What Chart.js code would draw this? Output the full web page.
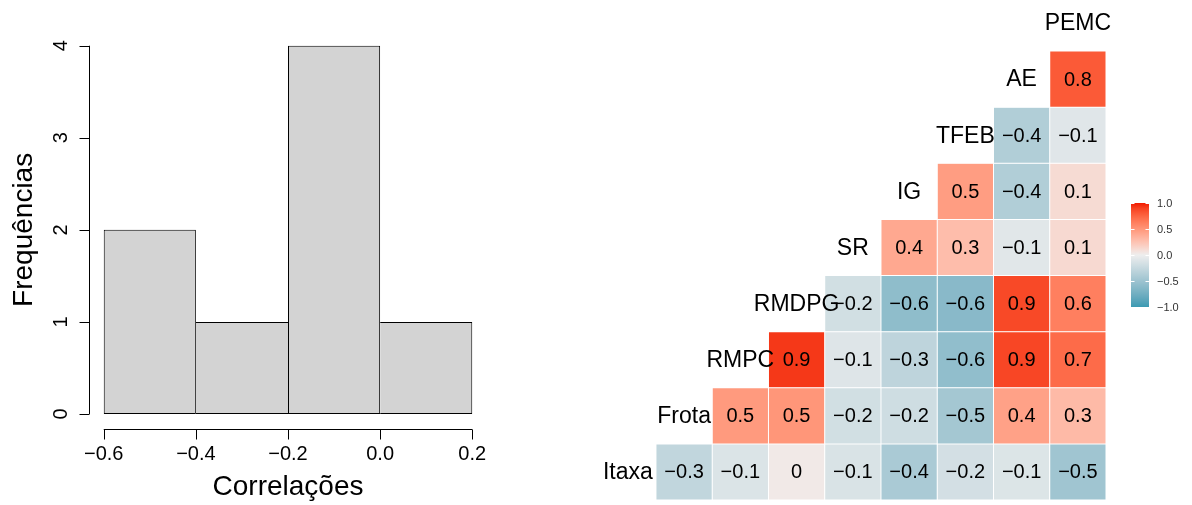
<!DOCTYPE html>
<html>
<head>
<meta charset="utf-8">
<script src="https://cdn.jsdelivr.net/npm/chart.js@4"></script>
<style>
  body { margin: 0; background: #fff; }
  #wrap { position: relative; width: 1192px; height: 505px; }
  canvas { position: absolute; top: 0; }
  #hist { left: 0; }
  #corr { left: 595px; }
</style>
</head>
<body>
<div id="wrap">
  <canvas id="hist" width="595" height="505"></canvas>
  <canvas id="corr" width="597" height="505"></canvas>
</div>
<script>
// histogram
const binEdges = [-0.6, -0.4, -0.2, 0.0, 0.2];
const binCounts = [2, 1, 4, 1];
const freqTicks = [0, 1, 2, 3, 4];

// correlation matrix (lower triangle, row r holds columns r+1..8)
const varNames = ['Itaxa', 'Frota', 'RMPC', 'RMDPG', 'SR', 'IG', 'TFEB', 'AE', 'PEMC'];
const corrItaxa = [-0.28, -0.12, 0.03, -0.13, -0.42, -0.17, -0.11, -0.48];
const corrFrota = [0.48, 0.5, -0.18, -0.2, -0.46, 0.44, 0.3];
const corrRMPC = [0.93, -0.1, -0.3, -0.57, 0.88, 0.72];
const corrRMDPG = [-0.18, -0.58, -0.62, 0.87, 0.62];
const corrSR = [0.4, 0.28, -0.08, 0.12];
const corrIG = [0.46, -0.38, 0.11];
const corrTFEB = [-0.38, -0.09];
const corrAE = [0.8];
const legendTicks = [1.0, 0.5, 0.0, -0.5, -1.0];

const FONT = "'Liberation Sans', Arial, sans-serif";
const minus = s => s.replace('-', '\u2212');

// ---- colour ramp (Lab interpolation like ggplot's gradient2)
function hexToLab(hex) {
  let c = [1, 3, 5].map(i => parseInt(hex.substr(i, 2), 16) / 255);
  c = c.map(v => v <= 0.04045 ? v / 12.92 : Math.pow((v + 0.055) / 1.055, 2.4));
  let X = (c[0] * 0.4124 + c[1] * 0.3576 + c[2] * 0.1805) / 0.95047;
  let Y = (c[0] * 0.2126 + c[1] * 0.7152 + c[2] * 0.0722);
  let Z = (c[0] * 0.0193 + c[1] * 0.1192 + c[2] * 0.9505) / 1.08883;
  const f = t => t > 0.008856 ? Math.cbrt(t) : 7.787 * t + 16 / 116;
  X = f(X); Y = f(Y); Z = f(Z);
  return [116 * Y - 16, 500 * (X - Y), 200 * (Y - Z)];
}
function labToRgb(L, a, b) {
  let Y = (L + 16) / 116, X = a / 500 + Y, Z = Y - b / 200;
  const g = t => t * t * t > 0.008856 ? t * t * t : (t - 16 / 116) / 7.787;
  X = g(X) * 0.95047; Y = g(Y); Z = g(Z) * 1.08883;
  let r = X * 3.2406 + Y * -1.5372 + Z * -0.4986;
  let gg = X * -0.9689 + Y * 1.8758 + Z * 0.0415;
  let bb = X * 0.0557 + Y * -0.2040 + Z * 1.0570;
  const s = v => {
    v = v > 0.0031308 ? 1.055 * Math.pow(v, 1 / 2.4) - 0.055 : 12.92 * v;
    return Math.round(Math.min(1, Math.max(0, v)) * 255);
  };
  return 'rgb(' + s(r) + ',' + s(gg) + ',' + s(bb) + ')';
}
const LOW = hexToLab('#3B9AB2'), MID = hexToLab('#EEEEEE'), HIGH = hexToLab('#F21A00');
function corrColor(v) {
  const end = v >= 0 ? HIGH : LOW;
  const t = Math.min(1, Math.abs(v));
  return labToRgb(MID[0] + (end[0] - MID[0]) * t, MID[1] + (end[1] - MID[1]) * t, MID[2] + (end[2] - MID[2]) * t);
}

// ---- left: histogram
const histAxes = {
  id: 'histAxes',
  afterDraw(chart) {
    const { ctx, chartArea } = chart;
    const xs = chart.scales.x, ys = chart.scales.y;
    ctx.save();
    ctx.strokeStyle = '#000';
    ctx.fillStyle = '#000';
    ctx.lineWidth = 1;
    // y axis
    const ax = Math.round(chartArea.left) + 0.5;
    ctx.beginPath();
    ctx.moveTo(ax, ys.getPixelForValue(freqTicks[0]));
    ctx.lineTo(ax, ys.getPixelForValue(freqTicks[freqTicks.length - 1]));
    freqTicks.forEach(t => {
      const y = Math.round(ys.getPixelForValue(t)) + 0.5;
      ctx.moveTo(ax, y);
      ctx.lineTo(ax - 10, y);
    });
    // x axis
    const ay = Math.round(chartArea.bottom) + 0.5;
    ctx.moveTo(xs.getPixelForValue(binEdges[0]), ay);
    ctx.lineTo(xs.getPixelForValue(binEdges[binEdges.length - 1]), ay);
    binEdges.forEach(t => {
      const x = Math.round(xs.getPixelForValue(t)) + 0.5;
      ctx.moveTo(x, ay);
      ctx.lineTo(x, ay + 10);
    });
    ctx.stroke();

    ctx.font = '20px ' + FONT;
    ctx.textAlign = 'center';
    ctx.textBaseline = 'alphabetic';
    binEdges.forEach(t => ctx.fillText(minus(t.toFixed(1)), xs.getPixelForValue(t), 460));
    freqTicks.forEach(t => {
      ctx.save();
      ctx.translate(67, ys.getPixelForValue(t));
      ctx.rotate(-Math.PI / 2);
      ctx.fillText(String(t), 0, 0);
      ctx.restore();
    });

    ctx.font = '28px ' + FONT;
    ctx.fillText('Correlações', (chartArea.left + chartArea.right) / 2, 495);
    ctx.save();
    ctx.translate(32, (chartArea.top + chartArea.bottom) / 2);
    ctx.rotate(-Math.PI / 2);
    ctx.fillText('Frequências', 0, 0);
    ctx.restore();
    ctx.restore();
  }
};

const lastBin = binCounts.length - 1;
new Chart(document.getElementById('hist'), {
  type: 'bar',
  data: {
    datasets: [{
      data: binCounts.map((c, i) => ({ x: (binEdges[i] + binEdges[i + 1]) / 2, y: c })),
      backgroundColor: '#D3D3D3',
      borderColor: '#000',
      borderSkipped: false,
      inflateAmount: 0,
      borderWidth: ctx => {
        const i = ctx.dataIndex;
        return {
          top: 1, bottom: 1,
          left: (i === 0 || binCounts[i] >= binCounts[i - 1]) ? 1 : 0,
          right: (i === lastBin || binCounts[i] > binCounts[i + 1]) ? 1 : 0
        };
      },
      barPercentage: 1,
      categoryPercentage: 1
    }]
  },
  options: {
    responsive: false,
    animation: false,
    layout: { padding: { left: 89, right: 108, top: 31, bottom: 76.3 } },
    scales: {
      x: {
        type: 'linear', display: false, offset: false, min: -0.632, max: 0.232,
        afterBuildTicks: s => { s.ticks = binEdges.map(v => ({ value: v })); }
      },
      y: { display: false, min: -0.16, max: 4.16 }
    },
    plugins: { legend: { display: false }, tooltip: { enabled: false } }
  },
  plugins: [histAxes]
});

// ---- right: correlation heatmap
const corrRows = [corrItaxa, corrFrota, corrRMPC, corrRMDPG, corrSR, corrIG, corrTFEB, corrAE];
const cells = [];
corrRows.forEach((row, r) => row.forEach((v, k) => {
  cells.push({ x: r + 1 + k, y: [r - 0.5, r + 0.5], v: v });
}));

const corrText = {
  id: 'corrText',
  afterDatasetsDraw(chart) {
    const { ctx } = chart;
    const xs = chart.scales.x, ys = chart.scales.y;
    ctx.save();
    ctx.fillStyle = '#000';
    ctx.textAlign = 'center';
    ctx.textBaseline = 'middle';
    ctx.font = '20px ' + FONT;
    cells.forEach(c => {
      const label = minus(String(Math.round(c.v * 10) / 10));
      ctx.fillText(label, xs.getPixelForValue(c.x), ys.getPixelForValue((c.y[0] + c.y[1]) / 2) + 1);
    });
    ctx.font = '23px ' + FONT;
    varNames.forEach((n, k) => {
      ctx.fillText(n, xs.getPixelForValue(k), ys.getPixelForValue(k) + 1);
    });

    // colour bar legend
    const bx = 536, bw = 18, top = 203, bottom = 307;
    const grad = ctx.createLinearGradient(0, top, 0, bottom);
    for (let i = 0; i <= 20; i++) grad.addColorStop(i / 20, corrColor(1 - i / 10));
    ctx.fillStyle = grad;
    ctx.fillRect(bx, top, bw, bottom - top);
    ctx.strokeStyle = '#fff';
    ctx.lineWidth = 1;
    ctx.font = '11px ' + FONT;
    ctx.textAlign = 'left';
    legendTicks.forEach(t => {
      const y = Math.round(top + (1 - t) / 2 * (bottom - top)) + 0.5;
      ctx.beginPath();
      ctx.moveTo(bx, y); ctx.lineTo(bx + 3.5, y);
      ctx.moveTo(bx + bw - 3.5, y); ctx.lineTo(bx + bw, y);
      ctx.stroke();
      ctx.fillStyle = '#333';
      ctx.fillText(minus(t.toFixed(1)), 562, y);
    });
    ctx.restore();
  }
};

new Chart(document.getElementById('corr'), {
  type: 'bar',
  data: {
    datasets: [{
      data: cells,
      backgroundColor: ctx => ctx.raw ? corrColor(ctx.raw.v) : '#eee',
      borderColor: '#fff',
      borderWidth: 0.5,
      borderSkipped: false,
      inflateAmount: 0,
      barPercentage: 1,
      categoryPercentage: 1
    }]
  },
  options: {
    responsive: false,
    animation: false,
    layout: { padding: { left: 4.7, right: 86, top: 51, bottom: 5 } },
    scales: {
      x: {
        type: 'linear', display: false, offset: false, min: -0.5, max: 8.5,
        afterBuildTicks: s => { s.ticks = varNames.map((n, i) => ({ value: i })); }
      },
      y: { type: 'linear', display: false, min: -0.5, max: 7.5 }
    },
    plugins: { legend: { display: false }, tooltip: { enabled: false } }
  },
  plugins: [corrText]
});
</script>
</body>
</html>
